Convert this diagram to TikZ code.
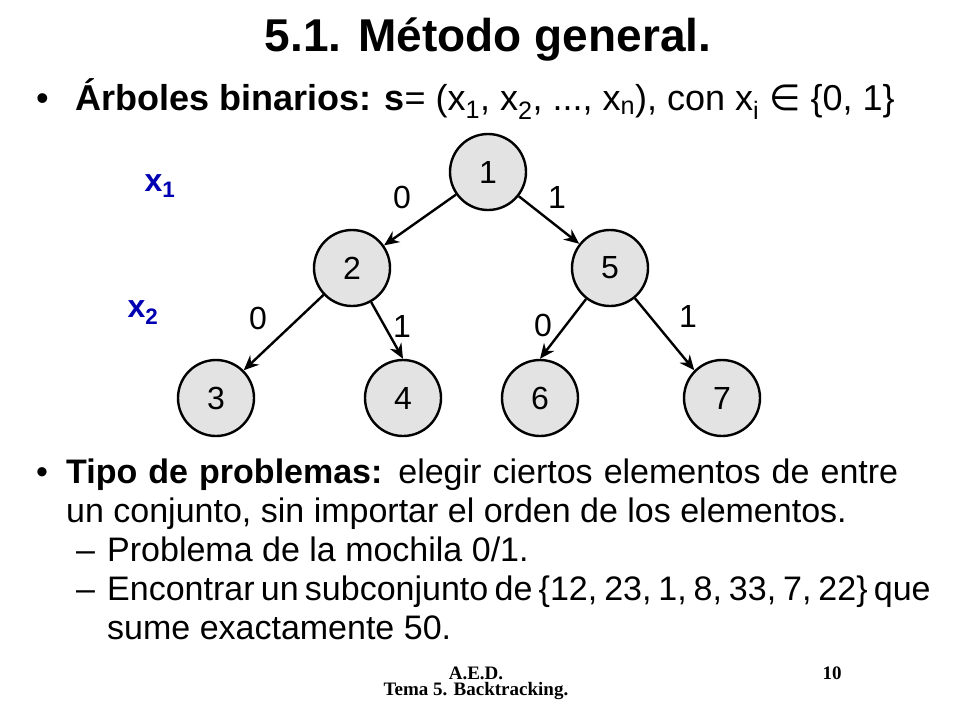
\documentclass[tikz,border=0pt]{standalone}
\usepackage{fontspec}
\usetikzlibrary{arrows.meta}
\setmainfont{Liberation Sans}
\newfontfamily\timesf{Liberation Serif}
\newfontfamily\dejavu{DejaVu Sans}
\begin{document}
\begin{tikzpicture}[x=1pt,y=-1pt,
  nd/.style={circle,draw,line width=2.4pt,fill=gray!22,minimum size=76pt,inner sep=0pt,font=\fontsize{32}{36}\selectfont},
  ed/.style={line width=2.4pt,-{Stealth[length=15pt,width=13pt]}},
  lb/.style={font=\fontsize{32}{36}\selectfont},
  xl/.style={font=\bfseries\fontsize{32}{36}\selectfont,text=blue!70!black},
  tx/.style={anchor=base west,inner sep=0pt,font=\fontsize{34}{38}\selectfont},
  ft/.style={inner sep=0pt,font=\timesf\bfseries\fontsize{19}{21}\selectfont}]
\useasboundingbox (0,0) rectangle (960,720);
\node[font=\bfseries\fontsize{46}{50}\selectfont] (title) at (488,40) {5.1. Método general.};
\node[tx,font=\fontsize{36}{40}\selectfont] (b1) at (36,110) {•};
\node[tx,font=\fontsize{36}{40}\selectfont] (l1) at (75,110) {\textbf{Árboles binarios: s}= (x\textsubscript{1}, x\textsubscript{2}, ..., x\textsubscript{n}), con x\textsubscript{i} {\dejavu ∈} \{0, 1\}};
\node[nd] (n1) at (488,172) {1};
\node[nd] (n2) at (352,268) {2};
\node[nd] (n5) at (610,268) {5};
\node[nd] (n3) at (216,398) {3};
\node[nd] (n4) at (403,398) {4};
\node[nd] (n6) at (540,398) {6};
\node[nd] (n7) at (722,398) {7};
\draw[ed] (n1) -- (n2);
\draw[ed] (n1) -- (n5);
\draw[ed] (n2) -- (n3.north east);
\draw[ed] (n2) -- (n4.north);
\draw[ed] (n5) -- (n6.north);
\draw[ed] (n5) -- (n7.north west);
\node[lb] (e1) at (402,197) {0};
\node[lb] (e2) at (557,197) {1};
\node[lb] (e3) at (258,318) {0};
\node[lb] (e4) at (402,326) {1};
\node[lb] (e5) at (543,325) {0};
\node[lb] (e6) at (688,316) {1};
\node[xl] (x1) at (160,186) {x\textsubscript{1}};
\node[xl] (x2) at (143,313) {x\textsubscript{2}};
\node[tx] (b2) at (36,483) {•};
\node[tx] (t1) at (66,483) {\makebox[832pt][s]{\textbf{Tipo de problemas:} elegir ciertos elementos de entre}};
\node[tx] (t2) at (66,522) {un conjunto, sin importar el orden de los elementos.};
\node[tx] (d1) at (76,561) {–};
\node[tx] (t3) at (107,561) {Problema de la mochila 0/1.};
\node[tx] (d2) at (76,600) {–};
\node[tx] (t4) at (107,600) {\makebox[790pt][s]{Encontrar un subconjunto de \{12, 23, 1, 8, 33, 7, 22\} que}};
\node[tx] (t5) at (107,639) {sume exactamente 50.};
\node[ft] (f1) at (476,673) {A.E.D.};
\node[ft] (f2) at (476,691) {Tema 5. Backtracking.};
\node[ft] (f3) at (832,673) {10};
\end{tikzpicture}
\end{document}
